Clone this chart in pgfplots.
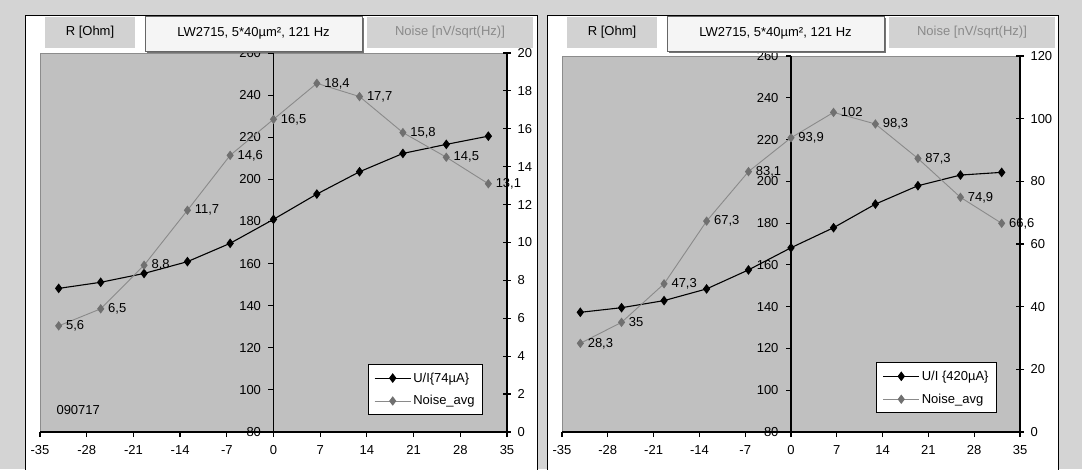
\documentclass[border=0pt]{standalone}
\usepackage{fontspec}
\setmainfont{Liberation Sans}
\usepackage{pgfplots}
\pgfplotsset{compat=1.18}
\definecolor{outerbg}{HTML}{D4D4D4}
\definecolor{plotbg}{HTML}{C0C0C0}
\definecolor{noisegray}{HTML}{8A8A8A}
\definecolor{noisemark}{HTML}{707070}
\definecolor{hdrgray}{HTML}{D2D2D2}
\newcommand{\fs}{\fontsize{13}{15}\selectfont}

\pgfplotsset{
  noarrows/.style={
    axis line style={-, black, line width=1.2pt},
    every inner x axis line/.append style={-},
    every outer x axis line/.append style={-},
    every inner y axis line/.append style={-},
    every outer y axis line/.append style={-},
  },
  raxis/.style={
    scale only axis, xmin=-35, xmax=35, ymin=80, ymax=260,
    axis x line=bottom, axis y line=center, noarrows,
    axis background/.style={fill=plotbg, draw=gray!90, line width=0.6pt},
    xtick={-35,-28,...,35}, ytick={80,100,...,260},
    tick align=outside, major tick length=5pt,
    tick style={black, line width=1.2pt},
    hide obscured x ticks=false, hide obscured y ticks=false,
    ticklabel style={font=\fs},
    xticklabel style={yshift=-5pt},
    yticklabel style={xshift=-4pt},
    /pgf/number format/assume math mode=true,
    clip=false,
  },
  naxis/.style={
    scale only axis, xmin=-35, xmax=35, ymin=0,
    axis x line=none, axis y line=right, noarrows,
    tick align=center, major tick length=8pt,
    tick style={black, line width=1.2pt},
    ticklabel style={font=\fs},
    yticklabel style={xshift=3pt},
    /pgf/number format/assume math mode=true,
    clip=false,
    nodes near coords, point meta=explicit symbolic,
    every node near coord/.append style={anchor=west, font=\fs, xshift=5pt, inner sep=2pt, text=black},
    legend style={draw=black, line width=1pt, fill=white, font=\fs,
      anchor=south east, legend cell align=left, row sep=8pt, inner sep=6pt},
    legend image code/.code={\draw[mark repeat=2, mark phase=2, #1]
      plot coordinates {(0pt,0pt) (18pt,0pt) (36pt,0pt)};},
  },
  rline/.style={black, line width=1.1pt, mark=diamond*, mark size=4pt,
    mark options={fill=black, solid}},
  nline/.style={noisegray, line width=0.9pt, mark=diamond*, mark size=4pt,
    mark options={fill=noisemark, draw=noisemark}},
}

\begin{document}
\begin{tikzpicture}[x=1pt, y=1pt]
\clip (0,0) rectangle (1082,469);
\fill[outerbg] (0,0) rectangle (1082,469);
\draw[fill=white, line width=1pt] (25,-5) rectangle (537,453);
\draw[fill=white, line width=1pt] (547,-5) rectangle (1058,453);

% left chart, 74 uA
\begin{axis}[raxis, at={(40pt,37pt)}, anchor=south west, width=467pt, height=379pt]
\addplot[rline] coordinates {
  (-32.2,148.2) (-25.9,151.1) (-19.4,155.3) (-12.9,160.9) (-6.5,169.6)
  (0,181.0) (6.5,193.0) (12.9,203.6) (19.4,212.3) (25.9,216.6) (32.2,220.5)
};
\end{axis}
\begin{axis}[naxis, at={(40pt,37pt)}, anchor=south west, width=467pt, height=379pt,
  ymax=20, ytick={0,2,...,20}, legend style={at={(0.949,0.045)}}]
\addlegendimage{rline}
\addlegendentry{U/I\{74µA\}}
\addplot[nline] coordinates {
  (-32.2,5.6) [5,6] (-25.9,6.5) [6,5] (-19.4,8.8) [8,8] (-12.9,11.7) [11,7]
  (-6.5,14.6) [14,6] (0,16.5) [16,5] (6.5,18.4) [18,4] (12.9,17.7) [17,7]
  (19.4,15.8) [15,8] (25.9,14.5) [14,5] (32.2,13.1) [13,1]
};
\addlegendentry{Noise\_avg}
\end{axis}

% right chart, 420 uA
\begin{axis}[raxis, at={(562pt,37pt)}, anchor=south west, width=458pt, height=376pt]
\addplot[rline] coordinates {
  (-32.2,137.3) (-25.9,139.5) (-19.4,142.9) (-12.9,148.5) (-6.5,157.6)
  (0,168.2) (6.5,177.8) (12.9,189.1) (19.4,197.9) (25.9,203.0) (32.2,204.3)
};
\end{axis}
\begin{axis}[naxis, at={(562pt,37pt)}, anchor=south west, width=458pt, height=376pt,
  ymax=120, ytick={0,20,...,120}, legend style={at={(0.950,0.05)}}]
\addlegendimage{rline}
\addlegendentry{U/I \{420µA\}}
\addplot[nline] coordinates {
  (-32.2,28.3) [28,3] (-25.9,35) [35] (-19.4,47.3) [47,3] (-12.9,67.3) [67,3]
  (-6.5,83.1) [83,1] (0,93.9) [93,9] (6.5,102) [102] (12.9,98.3) [98,3]
  (19.4,87.3) [87,3] (25.9,74.9) [74,9] (32.2,66.6) [66,6]
};
\addlegendentry{Noise\_avg}
\end{axis}

\node[anchor=west, font=\fs] at (53,59) {090717};

% header boxes
\foreach \dx in {0,522} {
  \begin{scope}[xshift=\dx pt]
    \fill[hdrgray] (45,421) rectangle (135,452);
    \node[font=\fs] at (90,436.5) {R [Ohm]};
    \fill[black!55] (147,416) rectangle (364,451);
    \draw[fill=black!4, draw=black!60, line width=0.8pt] (145,418) rectangle (362,453);
    \node[font=\fs] at (253.5,436) {LW2715, 5*40µm², 121 Hz};
    \fill[hdrgray] (367,421) rectangle (533,452);
    \node[font=\fs, text=noisegray] at (450,436.5) {Noise [nV/sqrt(Hz)]};
  \end{scope}
}
\end{tikzpicture}
\end{document}
